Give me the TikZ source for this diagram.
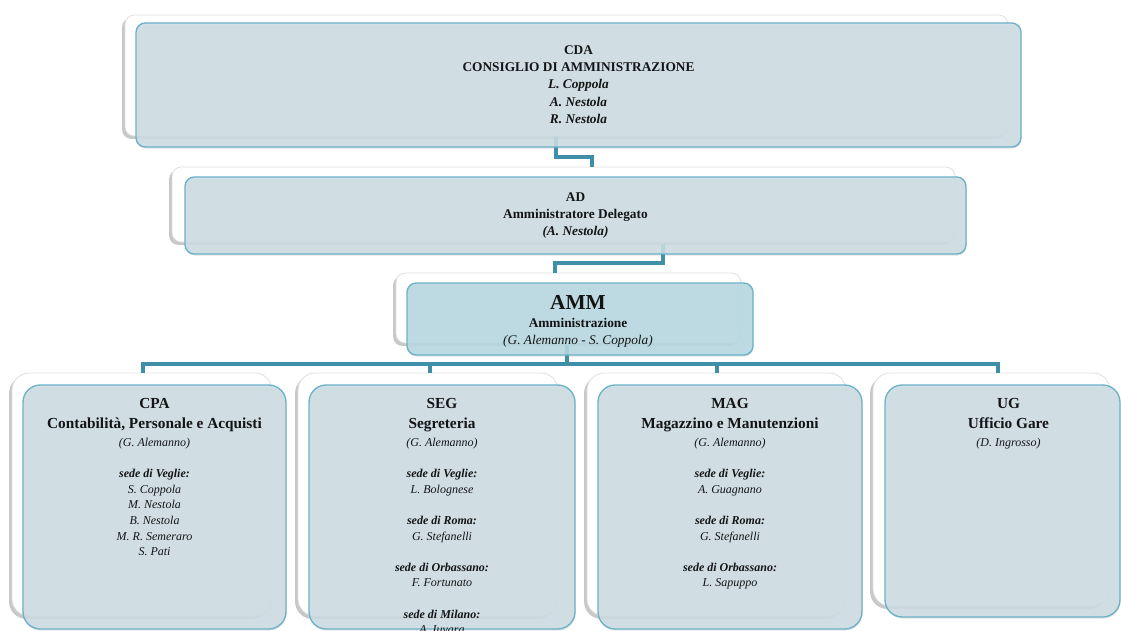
\documentclass[tikz,border=0pt]{standalone}
\usepackage{fontspec}
\setmainfont{Liberation Serif}
\usetikzlibrary{fit,calc,shadows}
\pgfdeclarelayer{back}
\pgfdeclarelayer{mid}
\pgfsetlayers{back,mid,main}

\definecolor{boxfill}{HTML}{CDDEE5}
\definecolor{ammfill}{HTML}{B7D9E2}
\definecolor{boxline}{HTML}{6AB2C8}
\definecolor{linkcol}{HTML}{3E8FA7}
\definecolor{backline}{HTML}{E0E0E0}

\newcommand\rowhead[1]{{\fontsize{11.5}{13}\selectfont\bfseries #1}}
\newcommand\sedename[1]{\textbf{\textit{#1}}}

\tikzset{
  backbox/.style={fill=white, draw=backline, line width=0.6pt, inner sep=0pt, outer sep=0pt,
    drop shadow={shadow xshift=-2.2pt, shadow yshift=-2.2pt, opacity=0.3, fill=black!70}},
  frontbox/.style={fill=boxfill, draw=boxline, line width=1pt, inner sep=0pt, outer sep=0pt,
    fill opacity=0.86,
    drop shadow={shadow xshift=0.4pt, shadow yshift=-1.2pt, opacity=0.22}},
  topcorner/.style={rounded corners=7pt},
  rowcorner/.style={rounded corners=13pt},
  link/.style={draw=linkcol, line width=2.4pt, line cap=butt, line join=miter},
  boxtext/.style={inner sep=0pt, align=center, text=black!92, anchor=north},
  toptext/.style={boxtext, font=\fontsize{10}{13}\selectfont\bfseries},
  rowtext/.style={boxtext, font=\fontsize{9}{11.7}\selectfont},
}

\begin{document}
\begin{tikzpicture}[x=0.75pt,y=-0.75pt]
\useasboundingbox (0,0) rectangle (1121,631);

% shadowed back plates
\begin{pgfonlayer}{back}
  \fill[white] (0,0) rectangle (1121,631);
  \node[backbox, topcorner, fit={(125,15) (1008,136)}] (cda-b) {};
  \node[backbox, topcorner, fit={(172,167) (955,242)}] (ad-b) {};
  \node[backbox, topcorner, fit={(396,273) (741,343)}] (amm-b) {};
  \node[backbox, rowcorner, fit={(12,373) (272,616)}] (cpa-b) {};
  \node[backbox, rowcorner, fit={(298,373) (558,616)}] (seg-b) {};
  \node[backbox, rowcorner, fit={(587,373) (846,616)}] (mag-b) {};
  \node[backbox, rowcorner, fit={(873,373) (1110,606)}] (ug-b) {};
\end{pgfonlayer}

% translucent front panels
\node[frontbox, topcorner, fit={(136,23) (1021,147)}] (cda) {};
\node[frontbox, topcorner, fit={(185,177) (966,254)}] (ad) {};
\node[frontbox, topcorner, fill=ammfill, fit={(407,283) (753,355)}] (amm) {};
\node[frontbox, rowcorner, fit={(23,385) (286,629)}] (cpa) {};
\node[frontbox, rowcorner, fit={(309,385) (575,629)}] (seg) {};
\node[frontbox, rowcorner, fit={(598,385) (862,629)}] (mag) {};
\node[frontbox, rowcorner, fit={(885,385) (1120,617)}] (ug) {};

% connectors, between the plates and the panels
\begin{pgfonlayer}{mid}
  \coordinate (ad-in) at ($(ad-b.north)+(28.5,0)$);
  \draw[link] ($(cda.south)+(-22.5,-10)$) |- ($(ad-in)+(0,-10)$) -- (ad-in);
  \coordinate (amm-in) at ($(amm-b.north)+(-13.5,0)$);
  \draw[link] ($(ad.south)+(87.5,-10)$) |- ($(amm-in)+(0,-10)$) -- (amm-in);
  \coordinate (bus) at ($(cpa-b.north)+(0,-9)$);
  \coordinate (amm-out) at ($(amm.south)+(-13,-10)$);
  \draw[link] (amm-out) -- (amm-out |- bus);
  \draw[link] ($(cpa-b.north)+(1,0)$) |- ($(ug-b.north)+(6.5,-9)$) -- ($(ug-b.north)+(6.5,0)$);
  \draw[link] ($(seg-b.north)+(2,0)$) -- ($(seg-b.north)+(2,-9)$);
  \draw[link] ($(mag-b.north)+(0.5,0)$) -- ($(mag-b.north)+(0.5,-9)$);
\end{pgfonlayer}

% labels
\node[toptext] (cda-t) at ($(cda.north)+(0,22)$)
  {CDA\\CONSIGLIO DI AMMINISTRAZIONE\\\textit{L. Coppola}\\\textit{A. Nestola}\\\textit{R. Nestola}};
\node[toptext] (ad-t) at ($(ad.north)+(0,15)$)
  {AD\\Amministratore Delegato\\\textit{(A. Nestola)}};
\node[toptext] (amm-t) at ($(amm.north)+(-2,12)$)
  {{\fontsize{16}{19}\selectfont AMM}\\[0.5pt]Amministrazione\\{\mdseries\itshape (G. Alemanno - S. Coppola)}};

\node[rowtext] (cpa-t) at ($(cpa.north)+(0,13)$)
  {\rowhead{CPA}\\[3.3pt]\rowhead{Contabilità, Personale e Acquisti}\\[1.8pt]\textit{(G. Alemanno)}\\[11.7pt]
   \sedename{sede di Veglie:}\\\textit{S. Coppola}\\\textit{M. Nestola}\\\textit{B. Nestola}\\\textit{M. R. Semeraro}\\\textit{S. Pati}};
\node[rowtext] (seg-t) at ($(seg.north)+(0,13)$)
  {\rowhead{SEG}\\[3.3pt]\rowhead{Segreteria}\\[1.8pt]\textit{(G. Alemanno)}\\[11.7pt]
   \sedename{sede di Veglie:}\\\textit{L. Bolognese}\\[11.7pt]
   \sedename{sede di Roma:}\\\textit{G. Stefanelli}\\[11.7pt]
   \sedename{sede di Orbassano:}\\\textit{F. Fortunato}\\[11.7pt]
   \sedename{sede di Milano:}\\\textit{A. Iuvara}};
\node[rowtext] (mag-t) at ($(mag.north)+(0,13)$)
  {\rowhead{MAG}\\[3.3pt]\rowhead{Magazzino e Manutenzioni}\\[1.8pt]\textit{(G. Alemanno)}\\[11.7pt]
   \sedename{sede di Veglie:}\\\textit{A. Guagnano}\\[11.7pt]
   \sedename{sede di Roma:}\\\textit{G. Stefanelli}\\[11.7pt]
   \sedename{sede di Orbassano:}\\\textit{L. Sapuppo}};
\node[rowtext] (ug-t) at ($(ug.north)+(6,13)$)
  {\rowhead{UG}\\[3.3pt]\rowhead{Ufficio Gare}\\[1.8pt]\textit{(D. Ingrosso)}};
\end{tikzpicture}
\end{document}
